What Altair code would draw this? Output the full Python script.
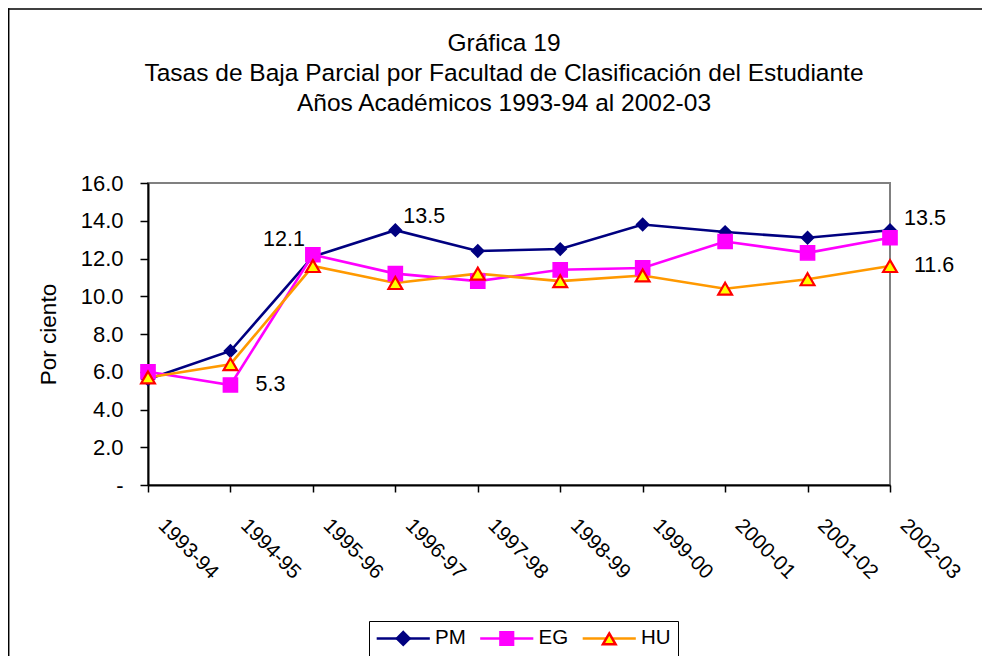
import altair as alt
import pandas as pd

years = ["1993-94", "1994-95", "1995-96", "1996-97", "1997-98",
         "1998-99", "1999-00", "2000-01", "2001-02", "2002-03"]
pm = [5.6, 7.1, 12.1, 13.5, 12.4, 12.5, 13.8, 13.4, 13.1, 13.5]
eg = [6.0, 5.3, 12.2, 11.2, 10.8, 11.4, 11.5, 12.9, 12.3, 13.1]
hu = [5.7, 6.4, 11.6, 10.7, 11.2, 10.8, 11.1, 10.4, 10.9, 11.6]
series_names = ["PM", "EG", "HU"]
title_lines = ["Gráfica 19",
               "Tasas de Baja Parcial por Facultad de Clasificación del Estudiante",
               "Años Académicos 1993-94 al 2002-03"]
y_title = "Por ciento"

FONT = "Liberation Sans"
NAVY, MAGENTA, ORANGE, YELLOW, RED = "#000080", "#FF00FF", "#FF9900", "#FFFF00", "#FF0000"

rows = []
for name, vals in zip(series_names, [pm, eg, hu]):
    for yr, v in zip(years, vals):
        rows.append({"year": yr, "series": name, "serie_l": name, "value": v})
df = pd.DataFrame(rows)

W, H = 742, 302
LX, LY = 221, 438
EXT = "M-4.2,0M4.2,0"
LINE_PATH = "M-4.2,0H4.2"
SHAPES = [EXT + "M0,-1L1,0L0,1L-1,0Z",
          EXT + "M-1,-1H1V1H-1Z",
          EXT + "M0,-0.866L1,0.866L-1,0.866Z"]

x_enc = alt.X("year:N", sort=years, title=None,
              scale=alt.Scale(type="point", padding=0, domain=years))
y_enc = alt.Y("value:Q", title=y_title,
              scale=alt.Scale(domain=[0, 16], nice=False, zero=True))

base = alt.Chart(df)

one = alt.Data(values=[{"a": 1}])
frame_top = alt.Chart(one).mark_rule(color="black", strokeWidth=1.5).encode(
    x=alt.value(-140), x2=alt.value(W + 120), y=alt.value(-174))
frame_left = alt.Chart(one).mark_rule(color="black", strokeWidth=1.5).encode(
    x=alt.value(-139.3), y=alt.value(-174.7), y2=alt.value(H + 200))

common_leg = dict(orient="none", legendX=LX, legendY=LY, direction="horizontal",
                  columns=3, title=None, symbolSize=160, symbolOffset=17,
                  labelOffset=21.5, labelFont=FONT, labelFontSize=20.5,
                  columnPadding=8.5, padding=7)

lines = base.mark_line(strokeWidth=2.6).encode(
    x=x_enc, y=y_enc,
    color=alt.Color("serie_l:N", sort=series_names,
                    scale=alt.Scale(range=[NAVY, MAGENTA, ORANGE]),
                    legend=alt.Legend(symbolType=LINE_PATH, symbolStrokeWidth=2.5,
                                      labelColor="black", strokeColor="black",
                                      fillColor="white", **common_leg)),
    detail="series:N",
)

legB = alt.Legend(symbolStrokeWidth=2.5, labelColor="transparent", **common_leg)

shape_enc = alt.Shape("series:N", scale=alt.Scale(domain=series_names, range=SHAPES),
                      legend=legB)
fill_enc = alt.Fill("series:N", scale=alt.Scale(domain=series_names,
                    range=[NAVY, MAGENTA, YELLOW]), legend=legB)
stroke_enc = alt.Stroke("series:N", scale=alt.Scale(domain=series_names,
                        range=[NAVY, MAGENTA, RED]), legend=legB)

sizes = {"PM": 150, "EG": 200, "HU": 190}
point_layers = []
for name in series_names:
    point_layers.append(
        base.transform_filter(alt.datum.series == name).mark_point(
            filled=True, opacity=1, size=sizes[name], strokeWidth=2.2 if name == "HU" else 1.5
        ).encode(x=x_enc, y=y_enc, shape=shape_enc, fill=fill_enc, stroke=stroke_enc)
    )

label_specs = [
    ("1995-96", "PM", "right", -8, -17),
    ("1996-97", "PM", "left", 8, -13),
    ("1994-95", "EG", "left", 25, 0),
    ("2002-03", "PM", "left", 14, -11),
    ("2002-03", "HU", "left", 24, 0),
]
text_layers = []
for yr, s, al, dx, dy in label_specs:
    text_layers.append(
        base.transform_filter((alt.datum.year == yr) & (alt.datum.series == s)).mark_text(
            font=FONT, fontSize=21.5, color="black", align=al, baseline="middle", dx=dx, dy=dy
        ).encode(x=x_enc, y=y_enc, text=alt.Text("value:Q", format=".1f"))
    )

chart = alt.layer(frame_top, frame_left, lines, *point_layers, *text_layers).properties(
    width=W, height=H,
    autosize=alt.AutoSizeParams(type="none"),
    padding={"left": 140, "top": 175, "right": 92, "bottom": 171},
    title=alt.TitleParams(title_lines, font=FONT, fontSize=24.5, fontWeight="normal",
                          color="black", lineHeight=30, anchor="middle", dx=-15,
                          frame="group", baseline="bottom", offset=-133),
).configure_view(
    stroke="#808080", strokeWidth=2
).configure_axisX(
    labelAngle=45, labelAlign="left", labelBaseline="middle", labelFont=FONT,
    labelFontSize=20.5, labelColor="black", labelPadding=30, labelOffset=13,
    tickSize=7, tickColor="black", tickWidth=1.5, domainColor="black", domainWidth=2,
    grid=False
).configure_axisY(
    values=[0, 2, 4, 6, 8, 10, 12, 14, 16],
    labelExpr="datum.value == 0 ? '-\u00a0\u00a0\u00a0\u00a0' : format(datum.value, '.1f')",
    labelFont=FONT, labelFontSize=22, labelColor="black", labelPadding=17,
    tickSize=8, tickColor="black", tickWidth=1.5, domainColor="black", domainWidth=2,
    grid=False, titleFont=FONT, titleFontSize=22.5, titleFontWeight="normal",
    titleColor="black", titleX=-100, titleY=151, titleAngle=270,
    titleAlign="center", titleBaseline="middle"
)

chart.save("out.html", embed_options={"renderer": "svg", "actions": False})
